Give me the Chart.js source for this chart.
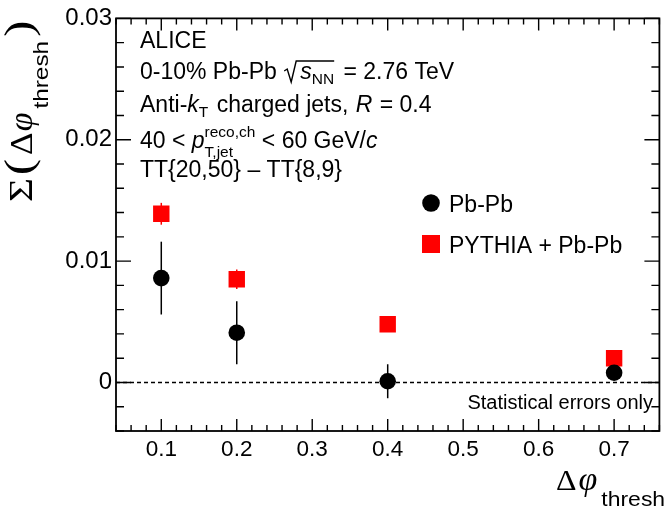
<!DOCTYPE html>
<html>
<head>
<meta charset="utf-8">
<script src="https://cdn.jsdelivr.net/npm/chart.js@4.4.1/dist/chart.umd.min.js"></script>
<style>
  html, body { margin: 0; padding: 0; background: #fff; }
  #box { width: 671px; height: 509px; }
</style>
</head>
<body>
<div id="box"><canvas id="dphi"></canvas></div>
<script>
// Sigma(dphi_thresh) for the two samples
const dphiValues = [0.1, 0.2, 0.4, 0.7];
const pbpbValues = [0.0086, 0.0041, 0.0001, 0.0008];
const pbpbErrors = [0.0030, 0.0026, 0.0014, 0.0004];
const pythiaValues = [0.0139, 0.0085, 0.0048, 0.0020];
const pythiaErrors = [0.0009, 0.0008, 0.0004, 0.0003];

const xTickValues = [0.1, 0.2, 0.3, 0.4, 0.5, 0.6, 0.7];
const xTickLabels = ['0.1', '0.2', '0.3', '0.4', '0.5', '0.6', '0.7'];
const yTickValues = [0, 0.01, 0.02, 0.03];
const yTickLabels = ['0', '0.01', '0.02', '0.03'];

const SANS = 'Liberation Sans';
const SERIF = 'Liberation Serif';

// draws a run of text pieces (italic, sub/superscripts, gaps) along a baseline;
// a piece may carry sx to widen it a little
function drawRich(ctx, x, y, parts) {
  ctx.save();
  ctx.textBaseline = 'alphabetic';
  ctx.textAlign = 'left';
  let cx = x;
  parts.forEach(p => {
    if (p.gap) { cx += p.gap; return; }
    if (p.stack) {
      let w = 0;
      p.stack.forEach(s => {
        ctx.font = s.f;
        ctx.fillText(s.t, cx, y + (s.dy || 0));
        w = Math.max(w, ctx.measureText(s.t).width);
      });
      cx += w;
      return;
    }
    if (p.radical) {
      // square-root sign with its bar over the next pieces
      ctx.beginPath();
      ctx.lineWidth = 1.4;
      ctx.moveTo(cx + 1, y - 8);
      ctx.lineTo(cx + 4, y - 10);
      ctx.lineTo(cx + 8, y + 3);
      ctx.lineTo(cx + 13, y - 18);
      ctx.lineTo(cx + p.radical + p.over, y - 18);
      ctx.stroke();
      cx += p.radical;
      return;
    }
    const sx = p.sx || 1;
    ctx.font = p.f;
    ctx.save();
    ctx.translate(cx, y + (p.dy || 0));
    ctx.scale(sx, 1);
    ctx.fillText(p.t, 0, 0);
    ctx.restore();
    cx += ctx.measureText(p.t).width * sx;
  });
  ctx.restore();
}

const framePlugin = {
  id: 'frame',
  beforeDatasetsDraw(chart) {
    const { ctx, chartArea: a, scales: { x, y } } = chart;
    ctx.save();
    // dashed zero line
    ctx.strokeStyle = '#000';
    ctx.lineWidth = 1.6;
    ctx.setLineDash([4, 3]);
    ctx.beginPath();
    ctx.moveTo(a.left, y.getPixelForValue(0));
    ctx.lineTo(a.right, y.getPixelForValue(0));
    ctx.stroke();
    ctx.setLineDash([]);
    // vertical error bars
    const bars = [[pythiaValues, pythiaErrors, '#ff0000'], [pbpbValues, pbpbErrors, '#000']];
    bars.forEach(([vals, errs, col]) => {
      ctx.strokeStyle = col;
      ctx.lineWidth = 1.5;
      vals.forEach((v, i) => {
        const px = x.getPixelForValue(dphiValues[i]);
        ctx.beginPath();
        ctx.moveTo(px, y.getPixelForValue(v + errs[i]));
        ctx.lineTo(px, y.getPixelForValue(v - errs[i]));
        ctx.stroke();
      });
    });
    ctx.restore();
  },
  afterDraw(chart) {
    const { ctx, chartArea: a, scales: { x, y } } = chart;
    ctx.save();
    ctx.strokeStyle = '#000';
    ctx.fillStyle = '#000';

    // ticks on all four sides, pointing inwards
    ctx.lineWidth = 1.4;
    ctx.beginPath();
    for (let i = 2; i <= 38; i++) {
      const px = x.getPixelForValue(i * 0.02);
      const len = (i % 5 === 0) ? 12 : 6;
      ctx.moveTo(px, a.bottom); ctx.lineTo(px, a.bottom - len);
      ctx.moveTo(px, a.top); ctx.lineTo(px, a.top + len);
    }
    for (let i = -2; i <= 15; i++) {
      const py = y.getPixelForValue(i * 0.002);
      const len = (i % 5 === 0) ? 15 : 8;
      ctx.moveTo(a.left, py); ctx.lineTo(a.left + len, py);
      ctx.moveTo(a.right, py); ctx.lineTo(a.right - len, py);
    }
    ctx.stroke();
    ctx.lineWidth = 1.8;
    ctx.strokeRect(a.left, a.top, a.right - a.left, a.bottom - a.top);

    // text block
    const F = '23px ' + SANS, FI = 'italic 23px ' + SANS, FS = '15.5px ' + SANS;
    drawRich(ctx, 140, 48, [{ t: 'ALICE', f: F }]);
    drawRich(ctx, 140, 79, [
      { t: '0-10% Pb-Pb ', f: F },
      { radical: 17, over: 34 },
      { t: 's', f: FI },
      { t: 'NN', f: FS, dy: 5 },
      { gap: 3 },
      { t: ' = 2.76 TeV', f: F }
    ]);
    drawRich(ctx, 140, 112, [
      { t: 'Anti-', f: F }, { t: 'k', f: FI }, { t: 'T', f: FS, dy: 5 },
      { gap: 2 }, { t: ' charged jets, ', f: F }, { gap: 1 }, { t: 'R', f: FI },
      { gap: 1 }, { t: ' = 0.4', f: F }
    ]);
    drawRich(ctx, 140, 148, [
      { t: '40 < ', f: F }, { t: 'p', f: FI },
      { stack: [{ t: 'reco,ch', f: FS, dy: -11 }, { t: 'T,jet', f: FS, dy: 9 }] },
      { t: ' < 60 GeV/', f: F }, { t: 'c', f: FI }
    ]);
    drawRich(ctx, 140, 177, [{ t: 'TT{20,50} \u2013 TT{8,9}', f: F }]);

    // legend
    ctx.beginPath();
    ctx.arc(431, 203, 8.8, 0, Math.PI * 2);
    ctx.fill();
    ctx.fillStyle = '#ff0000';
    ctx.fillRect(422, 235, 18, 18);
    ctx.fillStyle = '#000';
    const FL = '23px ' + SANS;
    drawRich(ctx, 449, 211.5, [{ t: 'Pb-Pb', f: FL }]);
    drawRich(ctx, 449, 252.5, [{ t: 'PYTHIA + Pb-Pb', f: FL }]);

    ctx.font = '20px ' + SANS;
    ctx.textAlign = 'right';
    ctx.fillText('Statistical errors only', 653, 409);

    // x axis title
    drawRich(ctx, 556, 490, [
      { t: '\u0394', f: '29px ' + SERIF, sx: 1.1 },
      { gap: 2 },
      { t: '\u03c6', f: 'italic 34px ' + SERIF },
      { gap: 4 },
      { t: 'thresh', f: '20.5px ' + SANS, dy: 16, sx: 1.12 }
    ]);

    // y axis title, reading upwards
    ctx.save();
    ctx.translate(32, 202);
    ctx.rotate(-Math.PI / 2);
    drawRich(ctx, 0, 0, [
      { t: '\u03a3', f: '33px ' + SERIF, sx: 1.25 },
      { gap: 3 },
      { t: '(', f: '40px ' + SERIF, sx: 1.2 },
      { gap: 4 },
      { t: '\u0394', f: '32px ' + SERIF, sx: 1.1 },
      { gap: 1 },
      { t: '\u03c6', f: 'italic 34px ' + SERIF },
      { gap: 4 },
      { t: 'thresh', f: '21px ' + SANS, dy: 16, sx: 1.16 },
      { gap: 4 },
      { t: ')', f: '40px ' + SERIF, sx: 1.2 }
    ]);
    ctx.restore();

    ctx.restore();
  }
};

new Chart(document.getElementById('dphi'), {
  type: 'scatter',
  data: {
    datasets: [
      {
        label: 'Pb-Pb',
        data: dphiValues.map((v, i) => ({ x: v, y: pbpbValues[i] })),
        pointStyle: 'circle',
        pointRadius: 8.3,
        pointHoverRadius: 8.3,
        backgroundColor: '#000',
        borderColor: '#000',
        borderWidth: 0
      },
      {
        label: 'PYTHIA + Pb-Pb',
        data: dphiValues.map((v, i) => ({ x: v, y: pythiaValues[i] })),
        pointStyle: 'rect',
        pointRadius: 11.6,
        pointHoverRadius: 11.6,
        backgroundColor: '#ff0000',
        borderColor: '#ff0000',
        borderWidth: 0
      }
    ]
  },
  options: {
    responsive: true,
    maintainAspectRatio: false,
    animation: false,
    layout: { padding: { top: 15, right: 1, left: 0, bottom: 0 } },
    plugins: { legend: { display: false }, tooltip: { enabled: false } },
    scales: {
      x: {
        type: 'linear',
        min: 0.04,
        max: 0.76,
        afterBuildTicks: sc => { sc.ticks = xTickValues.map(v => ({ value: v })); },
        afterFit: sc => { sc.height = 78; },
        grid: { display: false, drawTicks: false },
        border: { display: false },
        ticks: {
          color: '#000',
          font: { family: SANS, size: 22.5 },
          padding: 5,
          maxRotation: 0,
          autoSkip: false,
          callback: (v, i) => xTickLabels[i]
        }
      },
      y: {
        type: 'linear',
        min: -0.004,
        max: 0.03,
        afterBuildTicks: sc => { sc.ticks = yTickValues.map(v => ({ value: v })); },
        afterFit: sc => { sc.width = 116; },
        grid: { display: false, drawTicks: false },
        border: { display: false },
        ticks: {
          color: '#000',
          font: { family: SANS, size: 24 },
          padding: 4,
          autoSkip: false,
          callback: (v, i) => yTickLabels[i]
        }
      }
    }
  },
  plugins: [framePlugin]
});
</script>
</body>
</html>
